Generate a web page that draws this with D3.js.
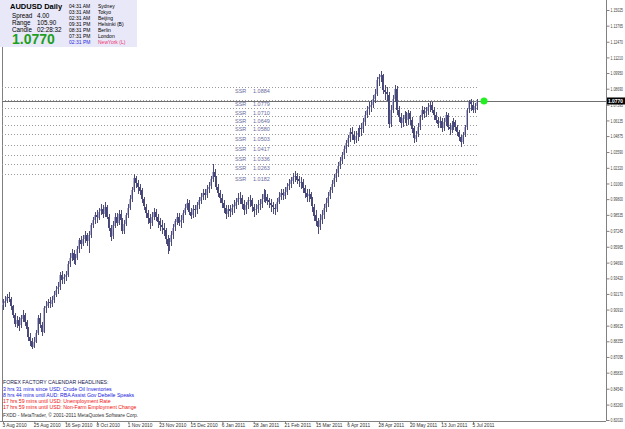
<!DOCTYPE html>
<html>
<head>
<meta charset="utf-8">
<script src="https://cdn.jsdelivr.net/npm/d3@7/dist/d3.min.js"></script>
<style>
  html, body { margin: 0; padding: 0; background: #fff; }
  svg text { font-family: "Liberation Sans", "DejaVu Sans", sans-serif; }
</style>
</head>
<body>
<svg id="svg-container" width="625" height="429"></svg>
<script>
// daily closes, AUDUSD, 3 Aug 2010 .. 8 Jul 2011
var closes = [
  0.914, 0.916, 0.919, 0.918, 0.912, 0.905, 0.898, 0.901, 0.896, 0.902,
  0.905, 0.899, 0.893, 0.887, 0.884, 0.879, 0.883, 0.890, 0.902, 0.897,
  0.891, 0.910, 0.912, 0.915, 0.914, 0.917, 0.921, 0.925, 0.927, 0.937,
  0.933, 0.935, 0.937, 0.946, 0.951, 0.955, 0.949, 0.951, 0.958, 0.965,
  0.962, 0.966, 0.969, 0.964, 0.969, 0.977, 0.981, 0.985, 0.983, 0.988,
  0.990, 0.986, 0.992, 0.984, 0.975, 0.968, 0.977, 0.984, 0.979, 0.986,
  0.981, 0.972, 0.978, 0.985, 0.991, 0.998, 1.005, 1.015, 1.011, 1.008,
  1.005, 0.998, 0.992, 0.987, 0.983, 0.979, 0.984, 0.988, 0.984, 0.980,
  0.977, 0.975, 0.973, 0.966, 0.960, 0.963, 0.969, 0.975, 0.980, 0.984,
  0.979, 0.981, 0.987, 0.991, 0.995, 0.988, 0.985, 0.990, 0.989, 0.993,
  0.997, 1.000, 1.003, 1.001, 1.006, 1.008, 1.014, 1.020, 1.016, 1.008,
  1.003, 0.999, 0.995, 0.991, 0.986, 0.990, 0.988, 0.991, 0.993, 0.996,
  0.999, 0.999, 0.994, 0.989, 0.993, 0.997, 0.997, 0.992, 0.989, 0.990,
  0.993, 0.994, 0.998, 1.002, 1.000, 0.997, 0.995, 0.993, 0.991, 0.990,
  0.996, 1.000, 1.003, 1.001, 1.004, 1.008, 1.010, 1.013, 1.016, 1.017,
  1.014, 1.012, 1.012, 1.007, 1.003, 1.000, 1.002, 0.998, 0.992, 0.985,
  0.980, 0.975, 0.981, 0.985, 0.991, 0.995, 1.000, 1.005, 1.010, 1.015,
  1.019, 1.025, 1.029, 1.033, 1.038, 1.043, 1.047, 1.052, 1.050, 1.046,
  1.049, 1.051, 1.055, 1.054, 1.060, 1.066, 1.070, 1.072, 1.074, 1.079,
  1.083, 1.094, 1.096, 1.098, 1.086, 1.084, 1.082, 1.059, 1.070, 1.079,
  1.087, 1.070, 1.064, 1.059, 1.063, 1.066, 1.061, 1.067, 1.062, 1.055,
  1.047, 1.050, 1.056, 1.064, 1.070, 1.067, 1.069, 1.072, 1.074, 1.070,
  1.066, 1.062, 1.059, 1.061, 1.055, 1.060, 1.066, 1.056, 1.054, 1.058,
  1.060, 1.056, 1.052, 1.048, 1.044, 1.050, 1.056, 1.070, 1.076, 1.074,
  1.070, 1.073, 1.077
];
var highs = [
  0.918, 0.920, 0.922, 0.923, 0.919, 0.913, 0.906, 0.904, 0.903, 0.905,
  0.909, 0.906, 0.901, 0.895, 0.890, 0.886, 0.887, 0.893, 0.905, 0.906,
  0.899, 0.912, 0.916, 0.918, 0.919, 0.920, 0.924, 0.928, 0.931, 0.939,
  0.940, 0.938, 0.940, 0.948, 0.955, 0.958, 0.957, 0.954, 0.960, 0.967,
  0.968, 0.969, 0.972, 0.971, 0.972, 0.979, 0.984, 0.988, 0.989, 0.991,
  0.994, 0.993, 0.996, 0.993, 0.986, 0.977, 0.980, 0.987, 0.987, 0.989,
  0.989, 0.983, 0.981, 0.987, 0.994, 1.001, 1.008, 1.018, 1.017, 1.013,
  1.010, 1.007, 1.000, 0.994, 0.989, 0.986, 0.988, 0.991, 0.990, 0.986,
  0.983, 0.981, 0.979, 0.975, 0.969, 0.967, 0.972, 0.978, 0.982, 0.987,
  0.987, 0.985, 0.989, 0.994, 0.998, 0.997, 0.991, 0.993, 0.993, 0.996,
  1.000, 1.003, 1.006, 1.006, 1.009, 1.012, 1.017, 1.026, 1.022, 1.017,
  1.010, 1.005, 1.002, 0.997, 0.993, 0.993, 0.993, 0.994, 0.997, 0.999,
  1.003, 1.004, 1.001, 0.997, 0.996, 1.000, 1.001, 0.999, 0.994, 0.994,
  0.997, 0.998, 1.002, 1.006, 1.005, 1.002, 0.999, 0.998, 0.996, 0.994,
  0.999, 1.004, 1.006, 1.006, 1.008, 1.011, 1.014, 1.016, 1.019, 1.021,
  1.019, 1.017, 1.016, 1.014, 1.009, 1.006, 1.006, 1.004, 1.000, 0.994,
  0.989, 0.983, 0.986, 0.989, 0.994, 0.999, 1.004, 1.008, 1.013, 1.018,
  1.022, 1.028, 1.032, 1.036, 1.041, 1.046, 1.050, 1.055, 1.056, 1.053,
  1.053, 1.055, 1.058, 1.059, 1.063, 1.069, 1.073, 1.076, 1.078, 1.082,
  1.087, 1.096, 1.099, 1.101, 1.099, 1.090, 1.088, 1.084, 1.074, 1.082,
  1.090, 1.089, 1.073, 1.067, 1.066, 1.069, 1.068, 1.070, 1.069, 1.064,
  1.057, 1.053, 1.059, 1.066, 1.073, 1.072, 1.072, 1.075, 1.077, 1.076,
  1.072, 1.068, 1.064, 1.064, 1.063, 1.063, 1.068, 1.067, 1.059, 1.061,
  1.063, 1.062, 1.058, 1.054, 1.050, 1.052, 1.058, 1.071, 1.078, 1.079,
  1.076, 1.075, 1.079
];
var lows = [
  0.909, 0.911, 0.914, 0.915, 0.909, 0.902, 0.895, 0.894, 0.892, 0.894,
  0.899, 0.896, 0.889, 0.884, 0.880, 0.877, 0.878, 0.882, 0.889, 0.894,
  0.888, 0.890, 0.906, 0.910, 0.910, 0.911, 0.914, 0.919, 0.922, 0.925,
  0.930, 0.930, 0.932, 0.935, 0.943, 0.948, 0.946, 0.945, 0.949, 0.955,
  0.958, 0.960, 0.963, 0.960, 0.955, 0.967, 0.975, 0.978, 0.979, 0.981,
  0.985, 0.983, 0.984, 0.982, 0.972, 0.964, 0.966, 0.975, 0.976, 0.977,
  0.979, 0.970, 0.970, 0.976, 0.983, 0.989, 0.996, 1.004, 1.007, 1.002,
  1.001, 0.995, 0.989, 0.983, 0.978, 0.974, 0.976, 0.981, 0.980, 0.975,
  0.972, 0.970, 0.968, 0.962, 0.954, 0.956, 0.960, 0.966, 0.972, 0.977,
  0.976, 0.975, 0.979, 0.985, 0.989, 0.985, 0.982, 0.983, 0.984, 0.986,
  0.990, 0.994, 0.997, 0.997, 0.999, 1.003, 1.006, 1.012, 1.012, 1.005,
  1.000, 0.995, 0.991, 0.987, 0.982, 0.984, 0.984, 0.985, 0.987, 0.990,
  0.993, 0.994, 0.990, 0.985, 0.986, 0.990, 0.992, 0.988, 0.984, 0.985,
  0.987, 0.989, 0.991, 0.996, 0.995, 0.993, 0.991, 0.988, 0.986, 0.985,
  0.988, 0.994, 0.997, 0.997, 0.998, 1.001, 1.005, 1.007, 1.010, 1.012,
  1.010, 1.008, 1.006, 1.003, 0.999, 0.996, 0.996, 0.993, 0.988, 0.980,
  0.976, 0.970, 0.973, 0.978, 0.982, 0.988, 0.992, 0.998, 1.003, 1.008,
  1.012, 1.016, 1.022, 1.026, 1.030, 1.035, 1.040, 1.044, 1.046, 1.042,
  1.043, 1.045, 1.048, 1.049, 1.051, 1.057, 1.063, 1.066, 1.068, 1.071,
  1.075, 1.081, 1.089, 1.092, 1.083, 1.078, 1.077, 1.055, 1.056, 1.067,
  1.076, 1.066, 1.060, 1.055, 1.056, 1.059, 1.057, 1.058, 1.058, 1.051,
  1.043, 1.044, 1.048, 1.054, 1.062, 1.063, 1.064, 1.066, 1.068, 1.067,
  1.062, 1.059, 1.055, 1.055, 1.052, 1.053, 1.057, 1.054, 1.050, 1.051,
  1.054, 1.053, 1.049, 1.045, 1.040, 1.042, 1.048, 1.054, 1.067, 1.069,
  1.067, 1.067, 1.070
];
var firstOpen = 0.912;

var dateLabels = ["3 Aug 2010", "25 Aug 2010", "16 Sep 2010", "8 Oct 2010", "1 Nov 2010",
  "23 Nov 2010", "15 Dec 2010", "6 Jan 2011", "28 Jan 2011", "21 Feb 2011", "15 Mar 2011",
  "6 Apr 2011", "28 Apr 2011", "20 May 2011", "13 Jun 2011", "5 Jul 2011"];
var dateBars = [0, 16, 32, 48, 64, 80, 96, 112, 128, 144, 160, 176, 192, 208, 224, 240];

var priceTicks = ["1.15025", "1.13765", "1.12470", "1.11210", "1.09950", "1.08690", "1.07395",
  "1.06135", "1.04875", "1.03590", "1.02320", "1.01060", "0.99800", "0.98535", "0.97245",
  "0.95965", "0.94690", "0.93420", "0.92170", "0.90910", "0.89615", "0.88355", "0.87095",
  "0.85830", "0.84540", "0.83260", "0.82020"];

var ssrLevels = [1.0884, 1.0779, 1.0710, 1.0649, 1.0580, 1.0503, 1.0417, 1.0336, 1.0263, 1.0182];
var bid = 1.0770;

var sessionTimes = ["04:31 AM", "03:31 AM", "02:31 AM", "09:31 PM", "08:31 PM", "07:31 PM", "02:31 PM"];
var sessionCities = ["Sydney", "Tokyo", "Beijing", "Helsinki  (B)", "Berlin", "London", "NewYork  (L)"];

var headlines = [
  "3 hrs 31 mins since USD: Crude Oil Inventories",
  "8 hrs 44 mins until AUD: RBA Assist Gov Debelle Speaks",
  "17 hrs 59 mins until USD: Unemployment Rate",
  "17 hrs 59 mins until USD: Non-Farm Employment Change"
];
var headlineColors = ["#2020e0", "#2020e0", "#f01010", "#f01010"];

var CHART = {
    LEFT: 2,
    RIGHT: 606,
    TOP: 0,
    BOTTOM: 421,
    BULL: "#b0b0cc",
    BEAR: "#45457a",
    WICK: "#4c4c7c",

    draw: function () {
        var svg = d3.select("#svg-container");

        var y = d3.scaleLinear().domain([0.82020, 1.15025]).range([420, 10]);
        var x = d3.scaleLinear().domain([0, closes.length - 1]).range([3, 477]);

        var bars = closes.map(function (c, i) {
            return { i: i, o: i === 0 ? firstOpen : closes[i - 1], c: c, h: highs[i], l: lows[i] };
        });

        // frame
        svg.append("line")
            .attr("x1", CHART.LEFT + 0.5).attr("y1", CHART.TOP)
            .attr("x2", CHART.LEFT + 0.5).attr("y2", CHART.BOTTOM)
            .attr("stroke", "#808080");

        // ssr dotted levels
        var gSsr = svg.append("g");
        gSsr.selectAll("line").data(ssrLevels).enter().append("line")
            .attr("x1", CHART.LEFT)
            .attr("x2", 478)
            .attr("y1", function (d) { return Math.round(y(d)) + 0.5; })
            .attr("y2", function (d) { return Math.round(y(d)) + 0.5; })
            .attr("stroke", "#9a9a9a")
            .attr("stroke-dasharray", "1,2");
        gSsr.selectAll("text.s").data(ssrLevels).enter().append("text")
            .attr("class", "s")
            .attr("x", 235)
            .attr("y", function (d) { return y(d) + 6.5; })
            .attr("font-size", "5.5")
            .attr("fill", "#6a6a9a")
            .text("SSR");
        gSsr.selectAll("text.v").data(ssrLevels).enter().append("text")
            .attr("class", "v")
            .attr("x", 253)
            .attr("y", function (d) { return y(d) + 6.5; })
            .attr("font-size", "5.5")
            .attr("fill", "#6a6a9a")
            .text(function (d) { return d.toFixed(4); });

        // bid line
        svg.append("line")
            .attr("x1", CHART.LEFT).attr("x2", CHART.RIGHT)
            .attr("y1", Math.round(y(bid)) + 0.5).attr("y2", Math.round(y(bid)) + 0.5)
            .attr("stroke", "#707070")
            .attr("stroke-width", 1);

        // candles: body first, dark wick on top
        var gBars = svg.append("g");
        gBars.selectAll("rect").data(bars).enter().append("rect")
            .attr("x", function (d) { return Math.round(x(d.i)) - 1; })
            .attr("width", 2)
            .attr("y", function (d) { return Math.round(y(Math.max(d.o, d.c))); })
            .attr("height", function (d) { return Math.max(1, Math.round(Math.abs(y(d.o) - y(d.c)))); })
            .attr("fill", function (d) { return d.c >= d.o ? CHART.BULL : CHART.BEAR; });
        gBars.selectAll("line").data(bars).enter().append("line")
            .attr("x1", function (d) { return Math.round(x(d.i)) + 0.5; })
            .attr("x2", function (d) { return Math.round(x(d.i)) + 0.5; })
            .attr("y1", function (d) { return Math.round(y(d.h)); })
            .attr("y2", function (d) { return Math.round(y(d.l)); })
            .attr("stroke", CHART.WICK);

        // current price dot
        svg.append("circle")
            .attr("cx", 484).attr("cy", y(bid))
            .attr("r", 3.5)
            .attr("fill", "#22ee22");

        // right price axis
        var yAxis = d3.axisRight(y)
            .tickValues(priceTicks.map(Number))
            .tickFormat(function (d, i) { return priceTicks[i]; })
            .tickSize(3)
            .tickSizeOuter(0);
        var gY = svg.append("g")
            .attr("transform", "translate(" + (CHART.RIGHT + 0.5) + ",0)")
            .call(yAxis);
        gY.select(".domain").attr("d", "M0," + CHART.TOP + "V" + CHART.BOTTOM).attr("stroke", "#808080");
        gY.selectAll(".tick line").attr("stroke", "#808080");
        gY.selectAll(".tick text")
            .attr("x", 4)
            .attr("font-size", "5")
            .attr("font-family", "Liberation Sans, sans-serif")
            .attr("textLength", 12.5)
            .attr("lengthAdjust", "spacingAndGlyphs")
            .attr("fill", "#404040");

        // current price tag
        svg.append("rect")
            .attr("x", CHART.RIGHT + 1).attr("y", y(bid) - 3.5)
            .attr("width", 18).attr("height", 7)
            .attr("fill", "#000");
        svg.append("text")
            .attr("x", CHART.RIGHT + 2).attr("y", y(bid) + 2.3)
            .attr("font-size", "6")
            .attr("font-weight", "bold")
            .attr("textLength", 15)
            .attr("lengthAdjust", "spacingAndGlyphs")
            .attr("fill", "#fff")
            .text(bid.toFixed(4));

        // bottom time axis
        var xAxis = d3.axisBottom(x)
            .tickValues(dateBars)
            .tickFormat(function (d, i) { return dateLabels[i]; })
            .tickSize(2)
            .tickSizeOuter(0);
        var gX = svg.append("g")
            .attr("transform", "translate(0," + (CHART.BOTTOM + 0.5) + ")")
            .call(xAxis);
        gX.select(".domain").attr("d", "M0,0H" + CHART.RIGHT).attr("stroke", "#808080");
        gX.selectAll(".tick line").attr("stroke", "#808080");
        gX.selectAll(".tick text")
            .attr("x", -1)
            .attr("y", 2)
            .attr("dy", "0.71em")
            .attr("text-anchor", "start")
            .attr("font-size", "4.8")
            .attr("font-family", "Liberation Sans, sans-serif")
            .attr("fill", "#303030");

        CHART.drawInfo(svg);
        CHART.drawHeadlines(svg);
    },

    drawInfo: function (svg) {
        var g = svg.append("g");
        g.append("rect")
            .attr("x", 0).attr("y", 0)
            .attr("width", 137).attr("height", 47)
            .attr("fill", "#e8e8f8");
        g.append("text")
            .attr("x", 10).attr("y", 9)
            .attr("font-size", "7.5")
            .attr("font-weight", "bold")
            .attr("fill", "#000")
            .text("AUDUSD   Daily");
        var rows = [["Spread", "4.00"], ["Range", "105.90"], ["Candle", "02:28:32"]];
        g.selectAll("text.lbl").data(rows).enter().append("text")
            .attr("class", "lbl")
            .attr("x", 12)
            .attr("y", function (d, i) { return 17.5 + i * 7; })
            .attr("font-size", "6.3")
            .attr("fill", "#000")
            .text(function (d) { return d[0]; });
        g.selectAll("text.val").data(rows).enter().append("text")
            .attr("class", "val")
            .attr("x", 37)
            .attr("y", function (d, i) { return 17.5 + i * 7; })
            .attr("font-size", "6.3")
            .attr("fill", "#000")
            .text(function (d) { return d[1]; });
        g.append("text")
            .attr("x", 12).attr("y", 44)
            .attr("font-size", "14")
            .attr("font-weight", "bold")
            .attr("fill", "#1e9e1e")
            .text(bid.toFixed(4));
        g.selectAll("text.tm").data(sessionTimes).enter().append("text")
            .attr("class", "tm")
            .attr("x", 69)
            .attr("y", function (d, i) { return 8 + i * 6; })
            .attr("font-size", "5")
            .attr("fill", function (d, i) { return i === 6 ? "#2a2ae0" : "#000"; })
            .text(function (d) { return d; });
        g.selectAll("text.ct").data(sessionCities).enter().append("text")
            .attr("class", "ct")
            .attr("x", 98)
            .attr("y", function (d, i) { return 8 + i * 6; })
            .attr("font-size", "5")
            .attr("fill", function (d, i) { return i === 6 ? "#f03070" : "#000"; })
            .text(function (d) { return d; });
    },

    drawHeadlines: function (svg) {
        var g = svg.append("g");
        g.append("text")
            .attr("x", 3).attr("y", 384)
            .attr("font-size", "5.2")
            .attr("fill", "#202050")
            .text("FOREX FACTORY CALENDAR HEADLINES:");
        g.selectAll("text.h").data(headlines).enter().append("text")
            .attr("class", "h")
            .attr("x", 3)
            .attr("y", function (d, i) { return 390.5 + i * 6; })
            .attr("font-size", "5.2")
            .attr("fill", function (d, i) { return headlineColors[i]; })
            .text(function (d) { return d; });
        g.append("text")
            .attr("x", 3).attr("y", 417)
            .attr("font-size", "4.9")
            .attr("fill", "#303030")
            .text("FXDD - MetaTrader, \u00a9 2001-2011 MetaQuotes Software Corp.");
    }
};

CHART.draw();
</script>
</body>
</html>
